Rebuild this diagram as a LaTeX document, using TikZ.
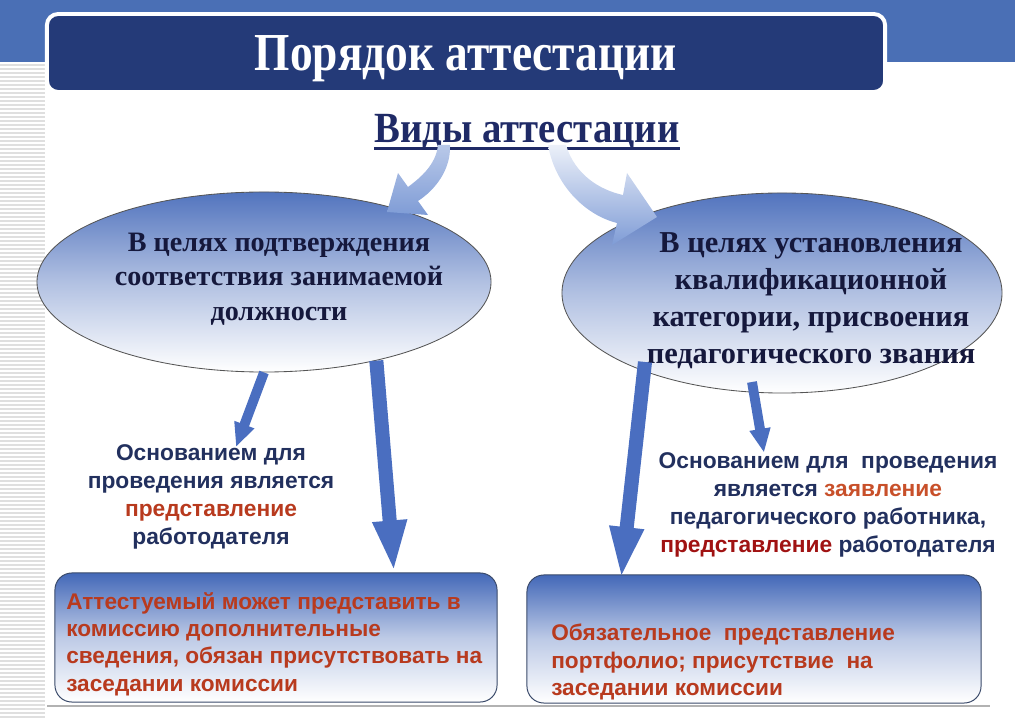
\documentclass[tikz,border=0pt]{standalone}
\usepackage{fontspec}
\setmainfont{Liberation Serif}
\setsansfont{Liberation Sans}
\newfontfamily\headfont[FakeStretch=0.9]{Liberation Serif}
\newfontfamily\titlefont[FakeStretch=0.85]{Liberation Serif}
\usetikzlibrary{arrows.meta,positioning,calc,shapes.geometric}
\definecolor{bandblue}{HTML}{4A6FB5}
\definecolor{titlenavy}{HTML}{243A78}
\definecolor{kindsnavy}{HTML}{1F2A66}
\definecolor{ellink}{HTML}{15183C}
\definecolor{ellblue}{HTML}{5274BE}
\definecolor{ellgray}{HTML}{555555}
\definecolor{midnavy}{HTML}{22305E}
\definecolor{redbrown}{HTML}{B83A1E}
\definecolor{orangered}{HTML}{C8502A}
\definecolor{darkred}{HTML}{A01212}
\definecolor{arrblue}{HTML}{4A6EC0}
\definecolor{boxblue}{HTML}{4368B8}
\definecolor{boxedge}{HTML}{3A4A6A}
\definecolor{curveblue}{HTML}{7F9CD6}

\begin{document}
\begin{tikzpicture}[x=0.025cm,y=-0.025cm,
    titlebox/.style={draw=white,line width=2.8pt,fill=titlenavy,rounded corners=8pt,text=white,
      text depth=0pt,minimum width=20.95cm,minimum height=1.95cm,
      font=\titlefont\bfseries\fontsize{38}{42}\selectfont},
    kinds/.style={inner sep=0pt,text=kindsnavy,font=\headfont\bfseries\fontsize{30.6}{34}\selectfont},
    ell/.style={ellipse,draw=ellgray,line width=0.6pt,top color=ellblue,bottom color=white,
      middle color=ellblue!45,inner sep=0pt},
    elltxt/.style={inner sep=0pt,align=center,text=ellink,font=\bfseries\fontsize{20}{24.5}\selectfont},
    midtxt/.style={inner sep=0pt,align=center,text=midnavy,font=\sffamily\bfseries\fontsize{16.2}{19.8}\selectfont},
    infobox/.style={draw=boxedge,line width=0.7pt,rounded corners=12pt,top color=boxblue,
      bottom color=white,middle color=boxblue!35},
    boxtxt/.style={inner sep=0pt,align=left,text=redbrown,font=\sffamily\bfseries\fontsize{16.1}{19.4}\selectfont},
    bigarr/.style={draw=arrblue,line width=10pt,-{Triangle[length=37pt,width=22pt]}},
    smallarr/.style={draw=arrblue,line width=7pt,-{Triangle[length=17pt,width=14pt]}},
    curvarr/.style={draw=none,top color=curveblue!55,bottom color=curveblue},
    stripe/.style={draw=gray!25,line width=0.8pt}]
  \useasboundingbox (0,0) rectangle (1015,721);
  % background band and stripes
  \fill[bandblue] (0,0) rectangle (1015,62);
  \foreach \y in {65,69,...,720}
    \draw[stripe] (0,\y) -- (45,\y);
  \draw[gray!60,line width=1pt] (47,706) -- (990,706);

  \node[titlebox] (title) at (466,53) {Порядок аттестации};
  \node[kinds,anchor=base] (kinds) at (527,143) {Виды аттестации};
  \draw[kindsnavy,line width=2.6pt] ([yshift=-4pt]kinds.base west) -- ([yshift=-4pt]kinds.base east);

  % the two kinds
  \node[ell,minimum width=11.35cm,minimum height=4.5cm] (lell) at (264,282) {};
  \node[elltxt] (ltxt) at (279,279) {В целях подтверждения\\соответствия занимаемой\\должности};
  \node[ell,minimum width=11cm,minimum height=5cm] (rell) at (782,293) {};
  \node[elltxt,font=\bfseries\fontsize{21.6}{26.3}\selectfont] (rtxt) at (811,301)
    {В целях установления\\квалификационной\\категории, присвоения\\педагогического звания};

  % curved arrows from the heading
  \path[curvarr] (438,145) .. controls (436,165) and (420,178) .. (408,187) -- (398,173)
    -- (387,212) -- (428,215) -- (418,201) .. controls (435,190) and (451,170) .. (450,145) -- cycle;
  \path[curvarr,top color=curveblue!15] (548,145) -- (566,145) .. controls (575,175) and (600,190) .. (623,195)
    -- (627,173) -- (657,217) -- (612,245) -- (617,223) .. controls (585,215) and (555,185) .. (548,145) -- cycle;

  % grounds
  \node[midtxt] (lmid) at (211,497) {Основанием для\\проведения является\\
    \textcolor{redbrown}{представление}\\работодателя};
  \node[midtxt] (rmid) at (828,505) {Основанием для\ \ проведения\\является \textcolor{orangered}{заявление}\\
    педагогического работника,\\\textcolor{darkred}{представление} работодателя};

  % procedure boxes
  \node[infobox,minimum width=11.05cm,minimum height=3.225cm] (lbox) at (276,637.5) {};
  \node[boxtxt,anchor=west] (lboxtxt) at (66,644) {Аттестуемый может представить в\\комиссию дополнительные\\
    сведения, обязан присутствовать на\\заседании комиссии};
  \node[infobox,minimum width=11.35cm,minimum height=3.2cm] (rbox) at (754,639) {};
  \node[boxtxt,anchor=west] (rboxtxt) at (551,662) {Обязательное\ \ представление\\портфолио; присутствие\ \ на\\
    заседании\ комиссии};

  % block arrows
  \coordinate (ltip) at (236,447);
  \coordinate (rtip) at (621,579);
  \coordinate (rtop) at (645,362);
  \coordinate (rstart) at (752,382);
  \draw[smallarr] (lell.south) -- (ltip);
  \draw[bigarr] (lell.-35) -- (394,0 |- lbox.north);
  \draw[bigarr] (rtop) -- (rtip);
  \draw[smallarr] (rstart) -- (764,0 |- rmid.north);
\end{tikzpicture}
\end{document}
